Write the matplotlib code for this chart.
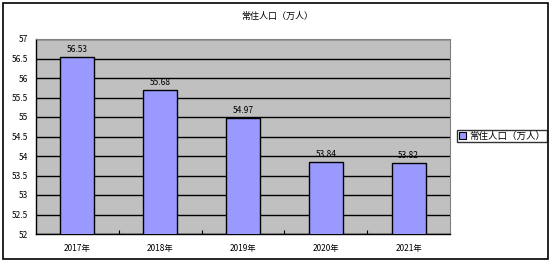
import matplotlib.pyplot as plt
import matplotlib.patches as mpatches
from matplotlib.ticker import MultipleLocator, FixedLocator

plt.rcParams['font.family'] = ['Noto Sans CJK SC', 'DejaVu Sans']

years = ['2017年', '2018年', '2019年', '2020年', '2021年']
population = [56.53, 55.68, 54.97, 53.84, 53.82]
series_name = '常住人口（万人）'

W, H = 554, 263
fig = plt.figure(figsize=(W / 100, H / 100), dpi=100, facecolor='white')

# outer chart border
fig.patches.append(mpatches.Rectangle((3 / W, 1 - 259 / H), 545 / W, 256 / H,
                                      transform=fig.transFigure, fill=False,
                                      edgecolor='black', linewidth=1.2))

# plot area
left, top, right, bottom = 36, 39, 450, 234
ax = fig.add_axes([left / W, 1 - bottom / H, (right - left) / W, (bottom - top) / H])
ax.set_facecolor('#C0C0C0')

x = range(len(years))
bars = ax.bar(x, population, width=0.41, bottom=0, color='#9999FF',
              edgecolor='black', linewidth=1.0, zorder=3)
ax.set_xlim(-0.5, len(years) - 0.5)
ax.set_ylim(52, 57)
ax.yaxis.set_major_locator(MultipleLocator(0.5))
ax.yaxis.grid(True, color='black', linewidth=1.0, zorder=1)
ax.set_axisbelow(True)

ax.set_xticks(list(x))
ax.set_xticklabels(years, fontsize=6)
ax.tick_params(axis='x', length=0, pad=7)
ax.xaxis.set_minor_locator(FixedLocator([i + 0.5 for i in range(len(years) - 1)]))
ax.tick_params(axis='x', which='minor', direction='in', length=3, width=0.8)
ax.set_yticks([52 + 0.5 * i for i in range(11)])
ax.set_yticklabels(['52', '52.5', '53', '53.5', '54', '54.5', '55', '55.5', '56', '56.5', '57'],
                   fontsize=6)
ax.tick_params(axis='y', length=0, pad=6)

for side in ['top', 'right']:
    ax.spines[side].set_color('#808080')
for side in ['left', 'bottom']:
    ax.spines[side].set_color('black')
    ax.spines[side].set_linewidth(1.0)

for xi, v in zip(x, population):
    ax.text(xi, v + 0.08, f'{v:.2f}', ha='center', va='bottom', fontsize=6, zorder=4)

fig.text(277 / W, 1 - 16 / H, series_name, ha='center', va='center', fontsize=6.5)

handle = mpatches.Patch(facecolor='#9999FF', edgecolor='black', linewidth=0.8,
                        label=series_name)
leg = fig.legend(handles=[handle], loc='center left',
                 bbox_to_anchor=(457 / W, 1 - 136 / H), fontsize=6.8,
                 frameon=True, fancybox=False, edgecolor='black',
                 handlelength=0.8, handleheight=0.8, handletextpad=0.3,
                 borderpad=0.2, borderaxespad=0)
leg.get_frame().set_linewidth(1.0)

fig.savefig('out.png', dpi=100, facecolor='white')
